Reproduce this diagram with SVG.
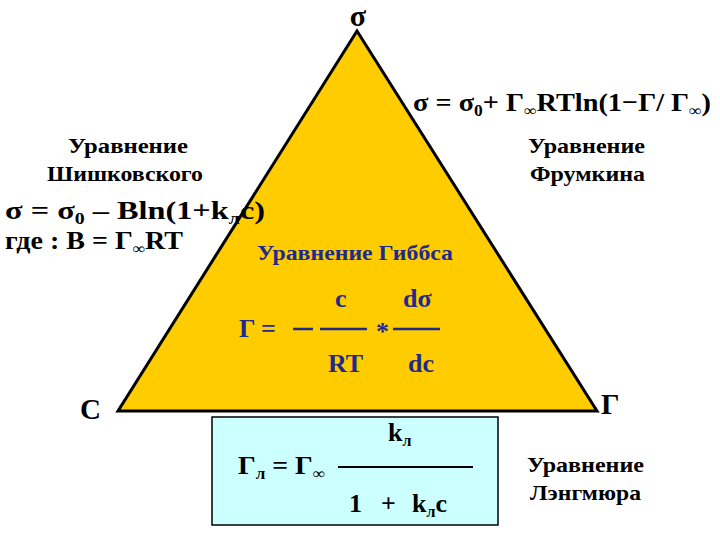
<svg xmlns="http://www.w3.org/2000/svg" width="720" height="540" viewBox="0 0 720 540">
<style>
text{font-family:"Liberation Serif","Times New Roman",serif;font-weight:bold;fill:#000}
.lbl{font-size:22px}
.f{font-size:26px}
.sub{font-size:16px}
.blue{fill:#1f2a8a}
.bar{stroke:#1f2a8a;stroke-width:2.5}
</style>
<rect width="720" height="540" fill="#fff"/>
<g id="triangle">
<polygon points="357,31 118,411 597,411" fill="#FFCC00" stroke="#000" stroke-width="3" stroke-linejoin="miter"/>
</g>
<g id="vertex-sigma"><text x="358" y="26" font-size="30" text-anchor="middle">σ</text></g>
<g id="vertex-c"><text x="80" y="419" font-size="29">C</text></g>
<g id="vertex-gamma"><text x="601" y="414" font-size="29">Γ</text></g>
<g id="frumkin-eq">
<text class="f" x="413" y="111" textLength="298" lengthAdjust="spacingAndGlyphs">σ = σ<tspan class="sub" dy="5">0</tspan><tspan dy="-5">+ Γ</tspan><tspan class="sub" dy="5">∞</tspan><tspan dy="-5">RTln(1−Γ/ Γ</tspan><tspan class="sub" dy="5">∞</tspan><tspan dy="-5">)</tspan></text>
</g>
<g id="shishkovsky">
<text class="lbl" x="68" y="153" textLength="120" lengthAdjust="spacingAndGlyphs">Уравнение</text>
<text class="lbl" x="47" y="181" textLength="156" lengthAdjust="spacingAndGlyphs">Шишковского</text>
<text class="f" x="5" y="219" textLength="260" lengthAdjust="spacingAndGlyphs">σ  = σ<tspan class="sub" dy="5">0</tspan><tspan dy="-5"> – Bln(1+k</tspan><tspan class="sub" dy="5">л</tspan><tspan dy="-5">c)</tspan></text>
<text class="f" x="5" y="249" textLength="178" lengthAdjust="spacingAndGlyphs">где : B = Γ<tspan class="sub" dy="5">∞</tspan><tspan dy="-5">RT</tspan></text>
</g>
<g id="frumkin">
<text class="lbl" x="528" y="153" textLength="117" lengthAdjust="spacingAndGlyphs">Уравнение</text>
<text class="lbl" x="530" y="181" textLength="115" lengthAdjust="spacingAndGlyphs">Фрумкина</text>
</g>
<g id="gibbs">
<text class="lbl blue" x="257" y="260" font-size="21" textLength="196" lengthAdjust="spacingAndGlyphs">Уравнение Гиббса</text>
<text class="f blue" x="335" y="307">c</text>
<text class="f blue" x="403" y="307">dσ</text>
<text class="f blue" x="239" y="337">Γ =</text>
<text class="f blue" x="376" y="340">*</text>
<text class="f blue" x="328" y="372">RT</text>
<text class="f blue" x="408" y="372">dc</text>
</g>
<g id="langmuir-box">
<rect x="212" y="417" width="286" height="108" fill="#CCFFFF" stroke="#000" stroke-width="1.5"/>
<text class="f" x="388" y="441">k<tspan class="sub" dy="5">л</tspan></text>
<text class="f" x="238" y="474" textLength="87" lengthAdjust="spacingAndGlyphs">Γ<tspan class="sub" dy="5">л</tspan><tspan dy="-5"> = Γ</tspan><tspan class="sub" dy="5">∞</tspan></text>
<text class="f" x="349" y="512">1</text>
<text class="f" x="381" y="512">+</text>
<text class="f" x="412" y="512">k<tspan class="sub" dy="5">л</tspan><tspan dy="-5">c</tspan></text>
</g>
<g id="langmuir">
<text class="lbl" x="527" y="472" textLength="117" lengthAdjust="spacingAndGlyphs">Уравнение</text>
<text class="lbl" x="530" y="500" textLength="111" lengthAdjust="spacingAndGlyphs">Лэнгмюра</text>
</g>
<g id="connectors">
<line class="bar" x1="293" y1="329" x2="313" y2="329"/>
<line class="bar" x1="320" y1="329" x2="367" y2="329"/>
<line class="bar" x1="393" y1="329" x2="440" y2="329"/>
<line x1="338" y1="467" x2="473" y2="467" stroke="#000" stroke-width="2"/>
</g>
</svg>
